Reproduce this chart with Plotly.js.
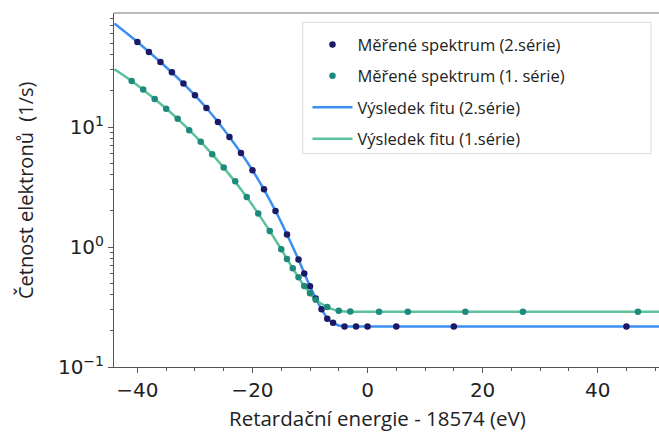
<!DOCTYPE html>
<html>
<head>
<meta charset="utf-8">
<script src="https://cdn.plot.ly/plotly-3.0.1.min.js"></script>
<style>html,body{margin:0;padding:0;background:#fff;overflow:hidden}</style>
</head>
<body>
<div id="chart" style="width:659px;height:434px"></div>
<script>
// Measured spectrum, series 2 (navy points)
const x2 = [-40,-38,-36,-34,-32,-30,-28,-26,-24,-22,-20,-18,-16,-14,-12,-11,-10,-9,-8,-7,-6,-4,-2,0,5,15,45];
const y2 = [51.1,42.2,34.8,28.6,23.0,18.4,14.4,11.0,8.25,6.07,4.36,3.03,2.0,1.27,0.785,0.60,0.471,0.372,0.303,0.253,0.234,0.218,0.218,0.218,0.218,0.218,0.218];
// Measured spectrum, series 1 (teal points)
const x1 = [-41,-39,-37,-35,-33,-31,-29,-27,-25,-23,-21,-19,-17,-15,-14,-13,-12,-11,-10,-9,-7,-5,-3,2,7,17,27,47];
const y1 = [24.2,20.5,17.1,14.2,11.7,9.39,7.55,5.92,4.59,3.53,2.61,1.90,1.36,0.957,0.794,0.664,0.559,0.473,0.411,0.364,0.316,0.294,0.290,0.289,0.289,0.289,0.289,0.289];
// Fit curves
const fx2 = [-44,-40,-36,-32,-28,-24,-20,-16,-14,-12,-10,-8,-7,-6,-5,-4,-2,51];
const fy2 = [72.8,51.1,34.8,23.0,14.4,8.25,4.36,2.0,1.27,0.785,0.471,0.303,0.255,0.233,0.222,0.218,0.218,0.218];
const fx1 = [-44,-41,-37,-33,-29,-25,-21,-17,-15,-13,-11,-9,-7,-6,-5,-4,-3,51];
const fy1 = [30.3,24.2,17.1,11.7,7.55,4.59,2.61,1.36,0.957,0.664,0.473,0.364,0.316,0.302,0.293,0.290,0.289,0.289];

const names = ['Měřené spektrum (2.série)','Měřené spektrum (1. série)','Výsledek fitu (2.série)','Výsledek fitu (1.série)'];
const yTickVals = [0.1, 1, 10];
const yTickText = ['10<sup>−1</sup>','10<sup>0</sup>','10<sup>1</sup>'];
const yMinorVals = [0.2,0.3,0.4,0.5,0.6,0.7,0.8,0.9,2,3,4,5,6,7,8,9,20,30,40,50,60,70,80];

const cNavy = '#1b1a66', cTeal = '#1d8a7b', cBlue = '#3d8ff2', cGreen = '#5cc29b';

const traces = [
  {x: fx2, y: fy2, mode:'lines', name:names[2], legendrank:3, legendgroup:'c',
   line:{color:cBlue, width:2.5, shape:'spline', smoothing:0.8}},
  {x: fx1, y: fy1, mode:'lines', name:names[3], legendrank:4, legendgroup:'d',
   line:{color:cGreen, width:2.5, shape:'spline', smoothing:0.8}},
  {x: x2, y: y2, mode:'markers', name:names[0], legendrank:1, legendgroup:'a',
   marker:{color:cNavy, size:6.5},
   error_y:{type:'percent', value:4, color:cNavy, thickness:1.5, width:0}},
  {x: x1, y: y1, mode:'markers', name:names[1], legendrank:2, legendgroup:'b',
   marker:{color:cTeal, size:6.5},
   error_y:{type:'percent', value:4, color:cTeal, thickness:1.5, width:0}}
];

const layout = {
  width:659, height:434,
  margin:{l:114.3, r:0, t:12.7, b:67.3},
  paper_bgcolor:'#fff', plot_bgcolor:'#fff',
  showlegend:true,
  legend:{x:0.355, y:0.96, xanchor:'left', yanchor:'top', bgcolor:'rgba(0,0,0,0)',
    borderwidth:0, font:{family:'Open Sans', size:16.5, color:'#222'},
    traceorder:'grouped', tracegroupgap:7, itemwidth:40},
  xaxis:{type:'linear', range:[-44.07, 50.66], tickmode:'linear', tick0:0, dtick:20,
    ticks:'outside', ticklen:5, tickwidth:1, tickcolor:'#555',
    minor:{ticks:'outside', dtick:5, ticklen:3, tickcolor:'#555', showgrid:false},
    showline:true, linecolor:'#555', linewidth:1, showgrid:false, zeroline:false,
    tickfont:{family:'DejaVu Sans', size:20, color:'#222'}},
  yaxis:{type:'log', range:[-1, 1.95], tickmode:'array', tickvals:yTickVals, ticktext:yTickText,
    ticks:'outside', ticklen:5, tickwidth:1, tickcolor:'#555',
    minor:{ticks:'outside', tickmode:'array', tickvals:yMinorVals, ticklen:3, tickcolor:'#555', showgrid:false},
    showline:true, linecolor:'#555', linewidth:1, showgrid:false, zeroline:false,
    tickfont:{family:'DejaVu Sans', size:20, color:'#222'}},
  shapes:[
    {type:'line', xref:'paper', yref:'paper', x0:0, x1:1, y0:1, y1:1, line:{color:'#777', width:1}},
    {type:'rect', xref:'paper', yref:'paper', x0:0.3464, x1:0.9853, y0:0.6028, y1:0.9737,
     line:{color:'#dadada', width:1}, fillcolor:'#fff', layer:'below'}
  ],
  annotations:[
    {text:'Retardační energie - 18574 (eV)', xref:'paper', yref:'paper', x:0.484, y:-0.145,
     xanchor:'center', yanchor:'middle', showarrow:false, font:{family:'Open Sans', size:20.5, color:'#222'}},
    {text:'Četnost elektronů  (1/s)', xref:'paper', yref:'paper', x:-0.162, y:0.499, textangle:-90,
     xanchor:'center', yanchor:'middle', showarrow:false, font:{family:'Open Sans', size:20, color:'#222'}}
  ]
};

Plotly.newPlot('chart', traces, layout, {displayModeBar:false, staticPlot:true});
</script>
</body>
</html>
